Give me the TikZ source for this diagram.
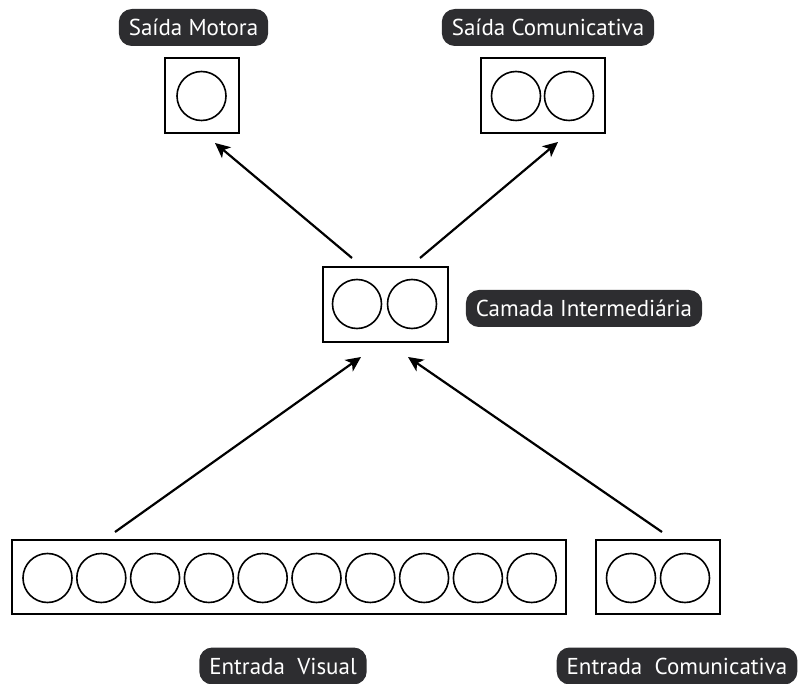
\documentclass[tikz,border=0pt]{standalone}
\usepackage{fontspec}
\setmainfont{PT Sans}
\usetikzlibrary{arrows.meta}
\definecolor{tagfill}{HTML}{2D2D30}
\begin{document}
\begin{tikzpicture}[x=1pt,y=-1pt,
  layerbox/.style={draw=black,line width=2.6pt,inner sep=0pt},
  unit/.style={draw=black,line width=1.6pt,circle,minimum size=49pt,inner sep=0pt},
  tag/.style={fill=tagfill,text=white,rounded corners=13pt,minimum height=37pt,
    inner xsep=10pt,font=\fontsize{23}{27}\selectfont},
  link/.style={line width=2.2pt,-{Stealth[length=15pt,width=14pt,inset=4pt]}}]
\useasboundingbox (0,0) rectangle (798,684);

% output layer: motor
\node[tag] (tMot) at (193.5,27.5) {Saída Motora};
\draw[layerbox] (165,58) rectangle (239,133);
\node[unit] (m1) at (201.5,96) {};

% output layer: communicative
\node[tag] (tCom) at (548,27.5) {Saída Comunicativa};
\draw[layerbox] (481,58) rectangle (605,133);
\node[unit] (c1) at (516,96) {};
\node[unit] (c2) at (569,96) {};

% hidden layer
\draw[layerbox] (323,267) rectangle (448,342);
\node[unit] (h1) at (357,304) {};
\node[unit] (h2) at (412,304) {};
\node[tag] (tHid) at (584,308.5) {Camada Intermediária};

% input layer: visual
\draw[layerbox] (12,540) rectangle (566,614);
\foreach \i in {0,...,9}
  \node[unit] (v\i) at ({47.5+53.8*\i},578) {};
\node[tag] (tVis) at (283,666) {Entrada~ Visual};

% input layer: communicative
\draw[layerbox] (596,540) rectangle (720,614);
\node[unit] (i1) at (631,578) {};
\node[unit] (i2) at (685,578) {};
\node[tag] (tIn) at (677,666) {Entrada~ Comunicativa};

% connections
\coordinate (hA) at (352,258);
\coordinate (hB) at (420,258);
\coordinate (mA) at (215,143);
\coordinate (cA) at (558,142);
\coordinate (vA) at (115,532);
\coordinate (hC) at (361,357);
\coordinate (iA) at (662,532);
\coordinate (hD) at (408,357);
\draw[link] (hA) -- (mA);
\draw[link] (hB) -- (cA);
\draw[link] (vA) -- (hC);
\draw[link] (iA) -- (hD);
\end{tikzpicture}
\end{document}
